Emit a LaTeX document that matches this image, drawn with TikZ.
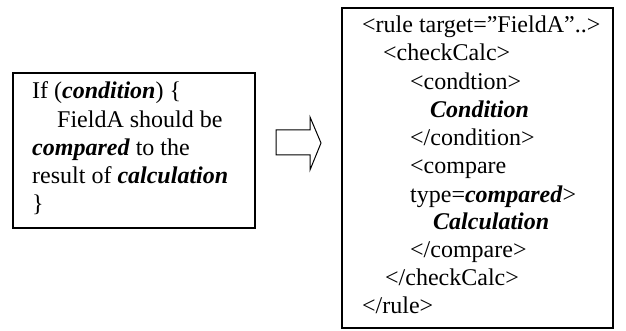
\documentclass[tikz,border=0pt]{standalone}
\usepackage{fontspec}
\setmainfont{Liberation Serif}
\begin{document}
\begin{tikzpicture}[x=1pt,y=-1pt,
  box/.style={draw=black,line width=1.3pt,inner sep=0pt},
  ln/.style={anchor=base west,inner sep=0pt,font=\fontsize{24}{28}\selectfont}]
\useasboundingbox (0,0) rectangle (626,331);
\node[box,minimum width=242pt,minimum height=155pt] (left) at (134,150.5) {};
\node[box,minimum width=271pt,minimum height=320pt] (right) at (477.5,168) {};
\draw[line width=1pt,line join=miter] (276,130) -- (310,130) -- (310,117) -- (321,143) -- (310,170) -- (310,155) -- (276,155) -- cycle;
% left text
\node[ln] (l1) at (32,99) {If (\textbf{\textit{condition}}) \{};
\node[ln] (l2) at (57,127.5) {FieldA should be};
\node[ln] (l3) at (32,155.5) {\textbf{\textit{compared}} to the};
\node[ln] (l4) at (32,183.5) {result of \textbf{\textit{calculation}}};
\node[ln] (l5) at (32,211.5) {\}};
% right text
\node[ln] (r1) at (362,33) {<rule target=”FieldA”..>};
\node[ln] (r2) at (383,61) {<checkCalc>};
\node[ln] (r3) at (410,89.5) {<condtion>};
\node[ln] (r4) at (430,118) {\textbf{\textit{Condition}}};
\node[ln] (r5) at (410,146) {</condition>};
\node[ln] (r6) at (410,174) {<compare};
\node[ln] (r7) at (410,202) {type=\textbf{\textit{compared}}>};
\node[ln] (r8) at (433,229.5) {\textbf{\textit{Calculation}}};
\node[ln] (r9) at (410,257.5) {</compare>};
\node[ln] (r10) at (385,285.5) {</checkCalc>};
\node[ln] (r11) at (362,313.5) {</rule>};
\end{tikzpicture}
\end{document}
